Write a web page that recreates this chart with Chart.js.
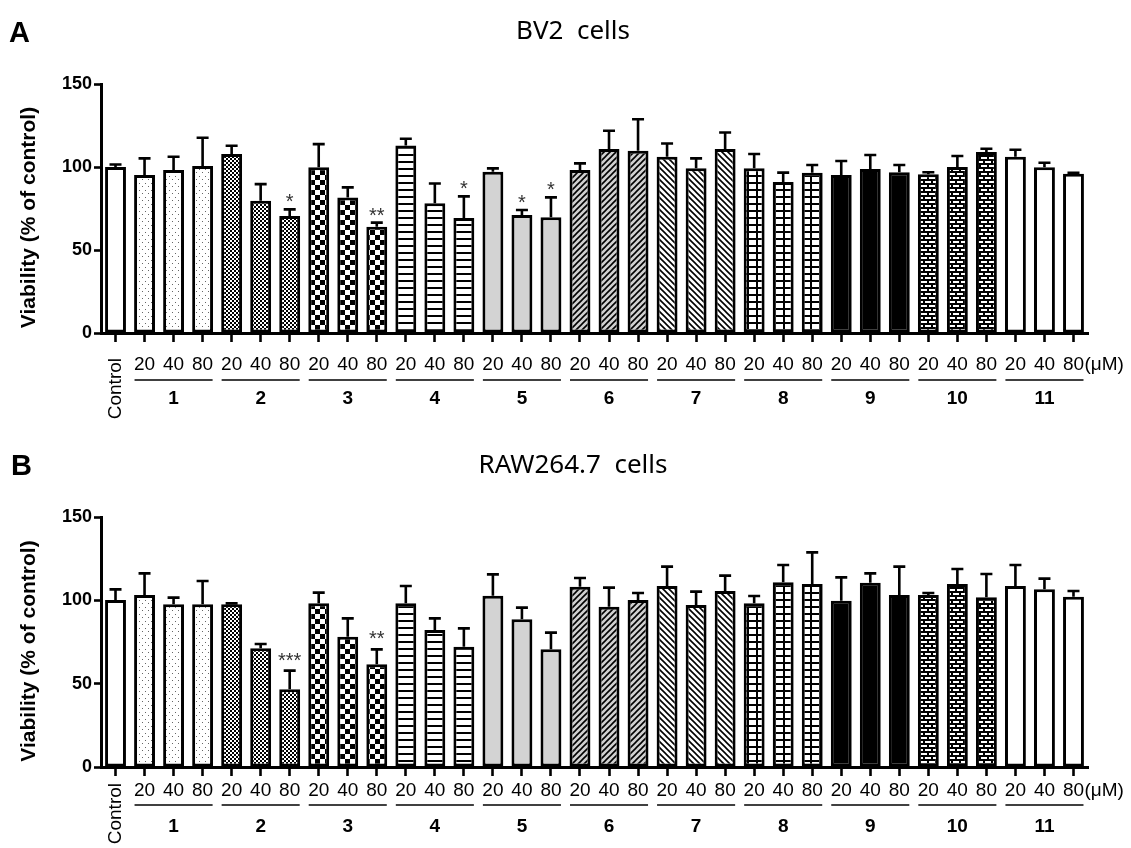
<!DOCTYPE html>
<html>
<head>
<meta charset="utf-8">
<script src="https://cdn.jsdelivr.net/npm/chart.js@4.4.1/dist/chart.umd.min.js"></script>
<style>
  html, body { margin: 0; padding: 0; background: #fff; }
  #wrap { position: relative; width: 1131px; height: 848px; overflow: hidden; }
  canvas { position: absolute; left: 0; }
</style>
</head>
<body>
<div id="wrap">
  <canvas id="chartA" width="1131" height="424" style="top:0px"></canvas>
  <canvas id="chartB" width="1131" height="424" style="top:424px"></canvas>
</div>
<script>
// ---------------- DATA ----------------
const doseLabels = ['20', '40', '80'];
const groupNames = ['1', '2', '3', '4', '5', '6', '7', '8', '9', '10', '11'];
const controlLabel = 'Control';
const unitLabel = '(\u03bcM)';
const yTicks = [0, 50, 100, 150];
const yAxisTitle = 'Viability (% of control)';

const titleA = 'BV2  cells';
const titleB = 'RAW264.7  cells';

// BV2 cells: Control, then 1-20,1-40,1-80, 2-20, ...
const bv2Values = [100,
  95.2, 98.2, 100.6,
  107.8, 79.7, 70.5,
  99.8, 81.7, 64.0,
  113.0, 78.1, 69.3,
  97.2, 71.1, 69.7,
  98.2, 110.8, 109.8,
  106.2, 99.2, 110.8,
  99.2, 91.0, 96.6,
  95.2, 98.8, 96.8,
  95.6, 100.0, 109.0,
  106.2, 99.8, 96.0];
const bv2Errors = [1.5,
  10, 8, 17,
  5, 10, 4,
  14, 6, 2.5,
  4, 12, 13,
  2, 3, 12,
  4, 11, 19,
  8, 6, 10,
  8.6, 5.6, 4.6,
  8.4, 8.4, 4.4,
  1.2, 6.6, 2,
  4.2, 2.8, 0.5];
const bv2Stars = ['',
  '', '', '',
  '', '', '*',
  '', '', '**',
  '', '', '*',
  '', '*', '*',
  '', '', '',
  '', '', '',
  '', '', '',
  '', '', '',
  '', '', '',
  '', '', ''];

// RAW264.7 cells
const rawValues = [100.2,
  103.2, 97.6, 97.6,
  97.6, 71.2, 46.6,
  98.2, 78.2, 61.6,
  98.2, 82.2, 72.2,
  102.8, 88.6, 70.6,
  108.2, 96.2, 100.2,
  108.6, 97.2, 105.6,
  98.2, 110.8, 109.8,
  99.8, 110.6, 103.2,
  103.2, 109.8, 101.8,
  108.6, 106.6, 102.2];
const rawErrors = [6.4,
  13, 4, 14,
  0.6, 2.6, 11.2,
  6.4, 11, 9,
  10.4, 7, 11,
  12.8, 7, 10,
  5.2, 11.4, 4.2,
  11.6, 8, 9.2,
  4.4, 10.4, 19,
  14, 5.6, 17,
  1.2, 9, 14,
  12.6, 6.4, 3.4];
const rawStars = ['',
  '', '', '',
  '', '', '***',
  '', '', '**',
  '', '', '',
  '', '', '',
  '', '', '',
  '', '', '',
  '', '', '',
  '', '', '',
  '', '', '',
  '', '', ''];

// categories built from labels
const categories = [controlLabel];
groupNames.forEach(g => doseLabels.forEach(d => categories.push(g + '-' + d)));

// ---------------- PATTERNS ----------------
function tile(w, h, draw) {
  const c = document.createElement('canvas');
  c.width = w; c.height = h;
  const g = c.getContext('2d');
  draw(g, w, h);
  return g.createPattern(c, 'repeat');
}
const fills = {
  white: '#ffffff',
  dots: tile(6, 7, (g) => {
    g.fillStyle = '#fff'; g.fillRect(0, 0, 6, 7);
    g.fillStyle = '#666'; g.fillRect(1, 1, 1, 1); g.fillRect(4, 4, 1, 1);
  }),
  fineChecker: tile(4, 4, (g) => {
    g.fillStyle = '#fff'; g.fillRect(0, 0, 4, 4);
    g.fillStyle = '#000'; g.fillRect(0, 0, 2, 2); g.fillRect(2, 2, 2, 2);
  }),
  bigChecker: tile(10, 10, (g) => {
    g.fillStyle = '#fff'; g.fillRect(0, 0, 10, 10);
    g.fillStyle = '#000'; g.fillRect(0, 0, 5, 5); g.fillRect(5, 5, 5, 5);
  }),
  hLines: tile(4, 7, (g) => {
    g.fillStyle = '#fff'; g.fillRect(0, 0, 4, 7);
    g.fillStyle = '#000'; g.fillRect(0, 0, 4, 2);
  }),
  grey: '#d3d3d3',
  diagF: tile(6, 6, (g) => {
    g.fillStyle = '#d0d0d0'; g.fillRect(0, 0, 6, 6);
    g.strokeStyle = '#000'; g.lineWidth = 1.6;
    g.beginPath();
    g.moveTo(0, 6); g.lineTo(6, 0);
    g.moveTo(-1, 1); g.lineTo(1, -1);
    g.moveTo(5, 7); g.lineTo(7, 5);
    g.stroke();
  }),
  diagB: tile(6, 6, (g) => {
    g.fillStyle = '#fff'; g.fillRect(0, 0, 6, 6);
    g.strokeStyle = '#000'; g.lineWidth = 1.6;
    g.beginPath();
    g.moveTo(0, 0); g.lineTo(6, 6);
    g.moveTo(5, -1); g.lineTo(7, 1);
    g.moveTo(-1, 5); g.lineTo(1, 7);
    g.stroke();
  }),
  grid: tile(9, 7, (g) => {
    g.fillStyle = '#fff'; g.fillRect(0, 0, 9, 7);
    g.fillStyle = '#000'; g.fillRect(0, 0, 9, 2); g.fillRect(0, 0, 2, 7);
  }),
  black: '#000000',
  brick: tile(8, 8, (g) => {
    g.fillStyle = '#000'; g.fillRect(0, 0, 8, 8);
    g.fillStyle = '#fff';
    g.fillRect(1, 1, 6, 2);
    g.fillRect(5, 5, 3, 2); g.fillRect(0, 5, 3, 2);
  })
};
const groupFillOrder = ['dots', 'fineChecker', 'bigChecker', 'hLines', 'grey', 'diagF', 'diagB', 'grid', 'black', 'brick', 'white'];
const barFills = [fills.white];
groupFillOrder.forEach(k => doseLabels.forEach(() => barFills.push(fills[k])));

// ---------------- CHART FACTORY ----------------
const FONT = '"Liberation Sans", Arial, sans-serif';

function makeChart(canvasId, cfg) {
  const annotate = {
    id: 'annotate',
    afterDatasetsDraw(chart) {
      const ctx = chart.ctx, x = chart.scales.x, y = chart.scales.y;
      ctx.save();
      ctx.strokeStyle = '#000';
      ctx.lineWidth = 2.6;
      cfg.values.forEach((v, i) => {
        const px = x.getPixelForValue(i);
        const yTop = y.getPixelForValue(v);
        const yErr = y.getPixelForValue(v + cfg.errors[i]);
        ctx.beginPath();
        ctx.moveTo(px, yTop);
        ctx.lineTo(px, yErr);
        ctx.moveTo(px - 6, yErr);
        ctx.lineTo(px + 6, yErr);
        ctx.stroke();
        if (cfg.stars[i]) {
          ctx.fillStyle = '#333';
          ctx.font = '20px ' + FONT;
          ctx.textAlign = 'center';
          ctx.textBaseline = 'alphabetic';
          ctx.fillText(cfg.stars[i], px, yErr - cfg.starLift);
        }
      });
      ctx.restore();
    },
    afterDraw(chart) {
      const ctx = chart.ctx, x = chart.scales.x, area = chart.chartArea;
      ctx.save();
      ctx.fillStyle = '#000';
      // panel letter
      ctx.font = 'bold 29px ' + FONT;
      ctx.textAlign = 'left'; ctx.textBaseline = 'alphabetic';
      ctx.fillText(cfg.letter, cfg.letterX, cfg.letterBaseline);
      // title
      ctx.font = '26px "Noto Sans", "Open Sans", sans-serif';
      ctx.textAlign = 'center';
      ctx.fillText(cfg.title, 573, cfg.titleBaseline);
      // y axis title
      ctx.save();
      ctx.translate(29, (area.top + area.bottom) / 2 + 9);
      ctx.rotate(-Math.PI / 2);
      ctx.font = 'bold 21px ' + FONT;
      ctx.textAlign = 'center'; ctx.textBaseline = 'middle';
      ctx.fillText(yAxisTitle, 0, 0);
      ctx.restore();
      // x labels
      categories.forEach((c, i) => {
        const px = x.getPixelForValue(i);
        if (i === 0) {
          ctx.save();
          ctx.translate(px, cfg.controlTop);
          ctx.rotate(-Math.PI / 2);
          ctx.font = '19px ' + FONT;
          ctx.textAlign = 'right'; ctx.textBaseline = 'middle';
          ctx.fillText(controlLabel, 0, 0);
          ctx.restore();
        } else {
          ctx.font = '19px ' + FONT;
          ctx.textAlign = 'center'; ctx.textBaseline = 'middle';
          ctx.fillText(doseLabels[(i - 1) % 3], px, cfg.labelY);
        }
      });
      // unit
      const lastPx = x.getPixelForValue(categories.length - 1);
      ctx.font = '19px ' + FONT;
      ctx.textAlign = 'left'; ctx.textBaseline = 'middle';
      ctx.fillText(unitLabel, lastPx + 11, cfg.labelY);
      // group underlines and numbers
      groupNames.forEach((g, gi) => {
        const first = x.getPixelForValue(1 + gi * 3);
        const mid = x.getPixelForValue(2 + gi * 3);
        const last = x.getPixelForValue(3 + gi * 3);
        ctx.strokeStyle = '#000';
        ctx.lineWidth = 1.6;
        ctx.beginPath();
        ctx.moveTo(first - 10, cfg.underlineY);
        ctx.lineTo(last + 10, cfg.underlineY);
        ctx.stroke();
        ctx.font = 'bold 19px ' + FONT;
        ctx.textAlign = 'center'; ctx.textBaseline = 'middle';
        ctx.fillText(g, mid, cfg.numberY);
      });
      ctx.restore();
    }
  };

  return new Chart(document.getElementById(canvasId), {
    type: 'bar',
    data: {
      labels: categories,
      datasets: [{
        data: cfg.values,
        backgroundColor: barFills,
        borderColor: '#000',
        borderWidth: 3,
        borderSkipped: false,
        categoryPercentage: 1,
        barPercentage: 0.72
      }]
    },
    options: {
      responsive: false,
      animation: false,
      events: [],
      layout: { padding: { top: cfg.top, right: 43, left: 0, bottom: 0 } },
      plugins: { legend: { display: false }, tooltip: { enabled: false }, title: { display: false } },
      scales: {
        x: {
          type: 'category',
          offset: true,
          afterFit: (s) => { s.height = cfg.xHeight; },
          border: { display: true, color: '#000', width: 3 },
          grid: { display: true, offset: false, drawOnChartArea: false, drawTicks: true, tickLength: 9, tickWidth: 2.6, color: '#000' },
          ticks: { autoSkip: false, maxRotation: 0, minRotation: 0, callback: () => '', font: { size: 1 } }
        },
        y: {
          min: 0, max: 150,
          afterFit: (s) => { s.width = 101; },
          afterBuildTicks: (s) => { s.ticks = yTicks.map(v => ({ value: v })); },
          border: { display: true, color: '#000', width: 3 },
          grid: { display: true, drawOnChartArea: false, drawTicks: true, tickLength: 7, tickWidth: 2.6, color: '#000' },
          ticks: { color: '#000', padding: 2, font: { family: FONT, size: 18, weight: 'bold' } }
        }
      }
    },
    plugins: [annotate]
  });
}

makeChart('chartA', {
  values: bv2Values, errors: bv2Errors, stars: bv2Stars, starLift: 1,
  letter: 'A', letterX: 9, letterBaseline: 42,
  title: titleA, titleBaseline: 39,
  top: 84, xHeight: 91,
  labelY: 365, underlineY: 380, numberY: 399, controlTop: 358
});
makeChart('chartB', {
  values: rawValues, errors: rawErrors, stars: rawStars, starLift: 4,
  letter: 'B', letterX: 11, letterBaseline: 51,
  title: titleB, titleBaseline: 49,
  top: 93, xHeight: 81,
  labelY: 367, underlineY: 381, numberY: 403, controlTop: 359
});
</script>
</body>
</html>
